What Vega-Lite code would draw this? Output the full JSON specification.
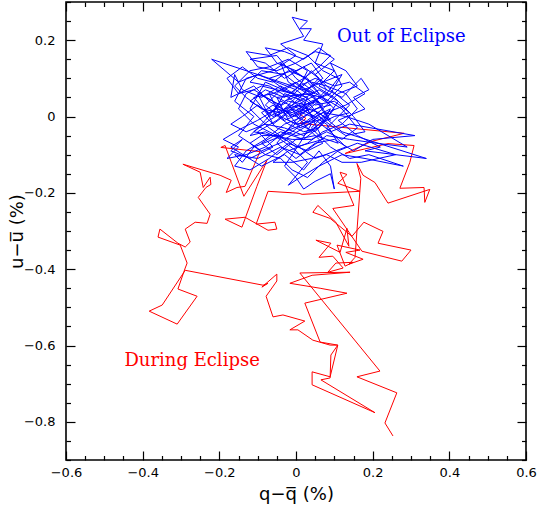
{
  "$schema": "https://vega.github.io/schema/vega-lite/v6.json",
  "width": 460,
  "height": 458,
  "autosize": {"type": "none"},
  "padding": {"left": 66, "top": 2, "right": 11, "bottom": 49},
  "config": {
    "view": {"stroke": "#000", "strokeWidth": 1.6},
    "axis": {
      "domain": false, "grid": false, "tickColor": "#000", "tickWidth": 1.2,
      "labelFont": "DejaVu Sans", "labelFontSize": 13, "labelColor": "#000",
      "titleFont": "DejaVu Sans", "titleFontSize": 18, "titleFontWeight": "normal", "titleColor": "#000",
      "labelFlush": false, "labelOverlap": false
    }
  },
  "datasets": {
    "red": [
      {"i":1,"q":0.005,"u":0.010},{"i":2,"q":0.026,"u":-0.005},{"i":3,"q":0.010,"u":-0.018},{"i":4,"q":0.282,"u":-0.044},
      {"i":5,"q":0.198,"u":-0.065},{"i":6,"q":0.128,"u":-0.097},{"i":7,"q":0.240,"u":-0.071},{"i":8,"q":0.308,"u":-0.076},
      {"i":9,"q":0.297,"u":-0.120},{"i":10,"q":0.271,"u":-0.188},{"i":11,"q":0.334,"u":-0.186},{"i":12,"q":0.336,"u":-0.225},
      {"i":13,"q":0.349,"u":-0.191},{"i":14,"q":0.240,"u":-0.227},{"i":15,"q":0.206,"u":-0.173},{"i":16,"q":0.175,"u":-0.154},
      {"i":17,"q":0.159,"u":-0.123},{"i":18,"q":0.169,"u":-0.162},{"i":19,"q":0.154,"u":-0.369},{"i":20,"q":0.138,"u":-0.387},
      {"i":21,"q":0.175,"u":-0.374},{"i":22,"q":0.130,"u":-0.356},{"i":23,"q":0.167,"u":-0.350},{"i":24,"q":0.107,"u":-0.337},
      {"i":25,"q":0.128,"u":-0.392},{"i":26,"q":0.149,"u":-0.382},{"i":27,"q":0.104,"u":-0.384},{"i":28,"q":0.083,"u":-0.408},
      {"i":29,"q":0.123,"u":-0.397},{"i":30,"q":0.096,"u":-0.366},{"i":31,"q":0.060,"u":-0.369},{"i":32,"q":0.091,"u":-0.332},
      {"i":33,"q":0.052,"u":-0.324},{"i":34,"q":0.115,"u":-0.356},{"i":35,"q":0.133,"u":-0.293},{"i":36,"q":0.138,"u":-0.340},
      {"i":37,"q":0.104,"u":-0.277},{"i":38,"q":0.057,"u":-0.233},{"i":39,"q":0.044,"u":-0.251},{"i":40,"q":0.089,"u":-0.267},
      {"i":41,"q":0.146,"u":-0.314},{"i":42,"q":0.177,"u":-0.277},{"i":43,"q":0.227,"u":-0.301},{"i":44,"q":0.214,"u":-0.332},
      {"i":45,"q":0.300,"u":-0.350},{"i":46,"q":0.276,"u":-0.379},{"i":47,"q":0.172,"u":-0.353},{"i":48,"q":0.096,"u":-0.241},
      {"i":49,"q":0.151,"u":-0.233},{"i":50,"q":0.115,"u":-0.146},{"i":51,"q":0.133,"u":-0.152},{"i":52,"q":0.109,"u":-0.175},
      {"i":53,"q":0.167,"u":-0.196},{"i":54,"q":0.016,"u":-0.204},{"i":55,"q":0.008,"u":-0.201},{"i":56,"q":-0.073,"u":-0.196},
      {"i":57,"q":-0.104,"u":-0.282},{"i":58,"q":-0.055,"u":-0.277},{"i":59,"q":-0.050,"u":-0.295},{"i":60,"q":-0.073,"u":-0.298},
      {"i":61,"q":-0.133,"u":-0.264},{"i":62,"q":-0.185,"u":-0.269},{"i":63,"q":-0.141,"u":-0.290},{"i":64,"q":-0.102,"u":-0.183},
      {"i":65,"q":-0.076,"u":-0.115},{"i":66,"q":-0.136,"u":-0.209},{"i":67,"q":-0.185,"u":-0.076},{"i":68,"q":-0.196,"u":-0.081},
      {"i":69,"q":-0.094,"u":-0.092},{"i":70,"q":-0.133,"u":-0.183},{"i":71,"q":-0.154,"u":-0.186},{"i":72,"q":-0.182,"u":-0.199},
      {"i":73,"q":-0.169,"u":-0.167},{"i":74,"q":-0.198,"u":-0.154},{"i":75,"q":-0.295,"u":-0.125},{"i":76,"q":-0.250,"u":-0.146},
      {"i":77,"q":-0.242,"u":-0.186},{"i":78,"q":-0.224,"u":-0.159},{"i":79,"q":-0.222,"u":-0.178},{"i":80,"q":-0.235,"u":-0.186},
      {"i":81,"q":-0.255,"u":-0.212},{"i":82,"q":-0.224,"u":-0.256},{"i":83,"q":-0.232,"u":-0.280},{"i":84,"q":-0.263,"u":-0.277},
      {"i":85,"q":-0.289,"u":-0.295},{"i":86,"q":-0.276,"u":-0.329},{"i":87,"q":-0.289,"u":-0.342},{"i":88,"q":-0.308,"u":-0.332},
      {"i":89,"q":-0.355,"u":-0.295},{"i":90,"q":-0.360,"u":-0.316},{"i":91,"q":-0.302,"u":-0.337},{"i":92,"q":-0.284,"u":-0.384},
      {"i":93,"q":-0.289,"u":-0.397},{"i":94,"q":-0.308,"u":-0.452},{"i":95,"q":-0.258,"u":-0.471},{"i":96,"q":-0.310,"u":-0.544},
      {"i":97,"q":-0.383,"u":-0.510},{"i":98,"q":-0.349,"u":-0.494},{"i":99,"q":-0.289,"u":-0.403},{"i":100,"q":-0.086,"u":-0.442},
      {"i":101,"q":-0.073,"u":-0.437},{"i":102,"q":-0.089,"u":-0.447},{"i":103,"q":-0.050,"u":-0.413},{"i":104,"q":-0.050,"u":-0.431},
      {"i":105,"q":-0.078,"u":-0.471},{"i":106,"q":-0.060,"u":-0.525},{"i":107,"q":-0.034,"u":-0.520},{"i":108,"q":0.023,"u":-0.536},
      {"i":109,"q":-0.016,"u":-0.559},{"i":110,"q":0.005,"u":-0.559},{"i":111,"q":0.044,"u":-0.586},{"i":112,"q":0.089,"u":-0.599},
      {"i":113,"q":0.109,"u":-0.599},{"i":114,"q":0.091,"u":-0.625},{"i":115,"q":0.089,"u":-0.685},{"i":116,"q":0.065,"u":-0.690},
      {"i":117,"q":0.206,"u":-0.776},{"i":118,"q":0.042,"u":-0.703},{"i":119,"q":0.042,"u":-0.669},{"i":120,"q":0.089,"u":-0.682},
      {"i":121,"q":0.109,"u":-0.599},{"i":122,"q":0.063,"u":-0.591},{"i":123,"q":0.023,"u":-0.489},{"i":124,"q":0.133,"u":-0.463},
      {"i":125,"q":0.063,"u":-0.450},{"i":126,"q":-0.016,"u":-0.437},{"i":127,"q":0.042,"u":-0.416},{"i":128,"q":0.141,"u":-0.408},
      {"i":129,"q":0.010,"u":-0.410},{"i":130,"q":0.219,"u":-0.667},{"i":131,"q":0.159,"u":-0.682},{"i":132,"q":0.263,"u":-0.724},
      {"i":133,"q":0.232,"u":-0.803},{"i":134,"q":0.253,"u":-0.837}
    ],
    "blue": [
      {"i":1,"q":0.02,"u":0.01},{"i":2,"q":0.06,"u":0.04},{"i":3,"q":-0.03,"u":0.02},{"i":4,"q":0.01,"u":-0.03},{"i":5,"q":0.08,"u":0.00},
      {"i":6,"q":0.04,"u":0.06},{"i":7,"q":-0.05,"u":0.05},{"i":8,"q":-0.02,"u":-0.01},{"i":9,"q":0.05,"u":-0.04},{"i":10,"q":0.10,"u":0.02},
      {"i":11,"q":0.03,"u":0.09},{"i":12,"q":-0.04,"u":0.03},{"i":13,"q":-0.10,"u":0.06},{"i":14,"q":-0.06,"u":-0.02},{"i":15,"q":0.02,"u":0.04},
      {"i":16,"q":0.07,"u":-0.06},{"i":17,"q":0.00,"u":-0.08},{"i":18,"q":-0.07,"u":-0.03},{"i":19,"q":-0.12,"u":0.02},{"i":20,"q":-0.08,"u":0.09},
      {"i":21,"q":-0.01,"u":0.06},{"i":22,"q":0.04,"u":0.12},{"i":23,"q":0.09,"u":0.07},{"i":24,"q":0.14,"u":0.03},{"i":25,"q":0.08,"u":-0.03},
      {"i":26,"q":0.13,"u":-0.08},{"i":27,"q":0.05,"u":-0.11},{"i":28,"q":-0.02,"u":-0.06},{"i":29,"q":-0.09,"u":-0.09},{"i":30,"q":-0.15,"u":-0.05},
      {"i":31,"q":-0.11,"u":0.00},{"i":32,"q":-0.16,"u":0.04},{"i":33,"q":-0.13,"u":0.10},{"i":34,"q":-0.06,"u":0.12},{"i":35,"q":0.00,"u":0.16},
      {"i":36,"q":-0.04,"u":0.19},{"i":37,"q":0.02,"u":0.21},{"i":38,"q":-0.01,"u":0.26},{"i":39,"q":0.03,"u":0.25},{"i":40,"q":0.01,"u":0.23},
      {"i":41,"q":0.04,"u":0.23},{"i":42,"q":0.02,"u":0.20},{"i":43,"q":0.07,"u":0.19},{"i":44,"q":0.05,"u":0.14},{"i":45,"q":0.10,"u":0.12},
      {"i":46,"q":0.06,"u":0.08},{"i":47,"q":0.12,"u":0.05},{"i":48,"q":0.17,"u":0.10},{"i":49,"q":0.19,"u":0.07},{"i":50,"q":0.15,"u":0.05},
      {"i":51,"q":0.18,"u":0.02},{"i":52,"q":0.11,"u":-0.01},{"i":53,"q":0.16,"u":-0.05},{"i":54,"q":0.22,"u":-0.08},{"i":55,"q":0.18,"u":-0.09},
      {"i":56,"q":0.34,"u":-0.11},{"i":57,"q":0.12,"u":-0.04},{"i":58,"q":0.06,"u":0.01},{"i":59,"q":0.00,"u":0.03},{"i":60,"q":-0.05,"u":-0.01},
      {"i":61,"q":-0.10,"u":-0.04},{"i":62,"q":-0.06,"u":-0.08},{"i":63,"q":-0.12,"u":-0.11},{"i":64,"q":-0.17,"u":-0.09},{"i":65,"q":-0.14,"u":-0.06},
      {"i":66,"q":-0.17,"u":-0.08},{"i":67,"q":-0.09,"u":-0.13},{"i":68,"q":-0.03,"u":-0.10},{"i":69,"q":0.02,"u":-0.14},{"i":70,"q":0.06,"u":-0.09},
      {"i":71,"q":0.09,"u":-0.13},{"i":72,"q":0.10,"u":-0.19},{"i":73,"q":0.09,"u":-0.15},{"i":74,"q":0.05,"u":-0.17},{"i":75,"q":0.02,"u":-0.19},
      {"i":76,"q":0.00,"u":-0.16},{"i":77,"q":-0.03,"u":-0.13},{"i":78,"q":0.01,"u":-0.07},{"i":79,"q":0.04,"u":-0.02},{"i":80,"q":-0.02,"u":0.01},
      {"i":81,"q":-0.07,"u":0.04},{"i":82,"q":-0.11,"u":0.08},{"i":83,"q":-0.17,"u":0.05},{"i":84,"q":-0.16,"u":0.11},{"i":85,"q":-0.14,"u":0.07},
      {"i":86,"q":-0.09,"u":0.05},{"i":87,"q":-0.04,"u":0.08},{"i":88,"q":0.01,"u":0.05},{"i":89,"q":0.06,"u":0.10},{"i":90,"q":0.02,"u":0.13},
      {"i":91,"q":-0.03,"u":0.10},{"i":92,"q":-0.08,"u":0.14},{"i":93,"q":-0.12,"u":0.15},{"i":94,"q":-0.05,"u":0.16},{"i":95,"q":0.00,"u":0.10},
      {"i":96,"q":0.04,"u":0.07},{"i":97,"q":0.08,"u":0.04},{"i":98,"q":0.12,"u":0.08},{"i":99,"q":0.09,"u":0.14},{"i":100,"q":0.13,"u":0.12},
      {"i":101,"q":0.16,"u":0.08},{"i":102,"q":0.11,"u":0.06},{"i":103,"q":0.07,"u":0.02},{"i":104,"q":0.03,"u":-0.01},{"i":105,"q":-0.01,"u":-0.04},
      {"i":106,"q":-0.06,"u":-0.06},{"i":107,"q":-0.11,"u":-0.08},{"i":108,"q":-0.14,"u":-0.12},{"i":109,"q":-0.16,"u":-0.10},{"i":110,"q":-0.10,"u":-0.11},
      {"i":111,"q":-0.04,"u":-0.08},{"i":112,"q":0.01,"u":-0.10},{"i":113,"q":0.05,"u":-0.07},{"i":114,"q":0.10,"u":-0.06},{"i":115,"q":0.15,"u":-0.09},
      {"i":116,"q":0.20,"u":-0.06},{"i":117,"q":0.31,"u":-0.05},{"i":118,"q":0.14,"u":-0.02},{"i":119,"q":0.09,"u":-0.04},{"i":120,"q":0.04,"u":0.00},
      {"i":121,"q":-0.01,"u":0.02},{"i":122,"q":-0.06,"u":0.00},{"i":123,"q":-0.10,"u":0.03},{"i":124,"q":-0.14,"u":0.00},{"i":125,"q":-0.17,"u":-0.02},
      {"i":126,"q":-0.13,"u":-0.04},{"i":127,"q":-0.08,"u":-0.02},{"i":128,"q":-0.03,"u":-0.03},{"i":129,"q":0.02,"u":-0.05},{"i":130,"q":0.06,"u":-0.02},
      {"i":131,"q":0.10,"u":0.00},{"i":132,"q":0.14,"u":0.01},{"i":133,"q":0.10,"u":0.04},{"i":134,"q":0.05,"u":0.03},{"i":135,"q":0.00,"u":0.07},
      {"i":136,"q":-0.05,"u":0.09},{"i":137,"q":-0.10,"u":0.11},{"i":138,"q":-0.15,"u":0.09},{"i":139,"q":-0.22,"u":0.15},{"i":140,"q":0.05,"u":0.06},
      {"i":141,"q":0.01,"u":0.08},{"i":142,"q":-0.03,"u":0.05},{"i":143,"q":-0.08,"u":0.07},{"i":144,"q":-0.12,"u":0.04},{"i":145,"q":-0.07,"u":0.01},
      {"i":146,"q":-0.02,"u":0.04},{"i":147,"q":0.03,"u":0.03},{"i":148,"q":0.08,"u":0.06},{"i":149,"q":0.11,"u":0.10},{"i":150,"q":0.07,"u":0.12},
      {"i":151,"q":0.03,"u":0.16},{"i":152,"q":-0.02,"u":0.18},{"i":153,"q":-0.07,"u":0.16},{"i":154,"q":-0.13,"u":0.17},{"i":155,"q":-0.10,"u":0.13},
      {"i":156,"q":-0.05,"u":0.12},{"i":157,"q":0.00,"u":0.14},{"i":158,"q":0.05,"u":0.17},{"i":159,"q":0.09,"u":0.16},{"i":160,"q":0.06,"u":0.13},
      {"i":161,"q":0.02,"u":0.10},{"i":162,"q":-0.03,"u":0.07},{"i":163,"q":-0.07,"u":0.10},{"i":164,"q":-0.01,"u":0.12},{"i":165,"q":0.04,"u":0.09},
      {"i":166,"q":0.08,"u":0.08},{"i":167,"q":0.13,"u":0.06},{"i":168,"q":0.16,"u":0.02},{"i":169,"q":0.12,"u":-0.02},{"i":170,"q":0.07,"u":-0.04},
      {"i":171,"q":0.03,"u":-0.07},{"i":172,"q":-0.02,"u":-0.09},{"i":173,"q":-0.06,"u":-0.12},{"i":174,"q":-0.01,"u":-0.12},{"i":175,"q":0.04,"u":-0.11},
      {"i":176,"q":0.08,"u":-0.10},{"i":177,"q":0.12,"u":-0.12},{"i":178,"q":0.17,"u":-0.12},{"i":179,"q":0.26,"u":-0.10},{"i":180,"q":0.16,"u":-0.07},
      {"i":181,"q":0.11,"u":-0.09},{"i":182,"q":0.07,"u":-0.12},{"i":183,"q":0.03,"u":-0.16},{"i":184,"q":-0.01,"u":-0.14},{"i":185,"q":-0.04,"u":-0.11},
      {"i":186,"q":-0.08,"u":-0.10},{"i":187,"q":-0.12,"u":-0.07},{"i":188,"q":-0.09,"u":-0.05},{"i":189,"q":-0.04,"u":-0.05},{"i":190,"q":0.01,"u":-0.01},
      {"i":191,"q":0.05,"u":0.02},{"i":192,"q":0.09,"u":0.03},{"i":193,"q":0.06,"u":0.05},{"i":194,"q":0.02,"u":0.02},{"i":195,"q":-0.02,"u":0.00},
      {"i":196,"q":-0.06,"u":0.03},{"i":197,"q":-0.09,"u":0.01},{"i":198,"q":-0.05,"u":-0.03},{"i":199,"q":0.00,"u":-0.05},{"i":200,"q":0.04,"u":-0.04},
      {"i":201,"q":0.07,"u":-0.01},{"i":202,"q":0.03,"u":0.04},{"i":203,"q":-0.01,"u":0.06},{"i":204,"q":-0.05,"u":0.07},{"i":205,"q":-0.09,"u":0.08},
      {"i":206,"q":-0.13,"u":0.06},{"i":207,"q":-0.15,"u":0.02},{"i":208,"q":-0.11,"u":-0.02},{"i":209,"q":-0.07,"u":-0.04},{"i":210,"q":-0.03,"u":-0.06},
      {"i":211,"q":0.02,"u":-0.03},{"i":212,"q":0.06,"u":0.00},{"i":213,"q":0.10,"u":-0.03},{"i":214,"q":0.13,"u":-0.05},{"i":215,"q":0.18,"u":-0.04},
      {"i":216,"q":0.15,"u":0.00},{"i":217,"q":0.10,"u":0.05},{"i":218,"q":0.05,"u":0.08},{"i":219,"q":0.01,"u":0.11},{"i":220,"q":-0.04,"u":0.14},
      {"i":221,"q":-0.02,"u":0.09},{"i":222,"q":0.03,"u":0.06},{"i":223,"q":0.07,"u":0.03},{"i":224,"q":0.02,"u":0.00},{"i":225,"q":-0.03,"u":-0.02},
      {"i":226,"q":-0.08,"u":-0.06},{"i":227,"q":-0.13,"u":-0.09},{"i":228,"q":-0.16,"u":-0.13},{"i":229,"q":-0.12,"u":-0.14},{"i":230,"q":-0.07,"u":-0.11},
      {"i":231,"q":-0.02,"u":-0.07},{"i":232,"q":0.03,"u":-0.09},{"i":233,"q":0.07,"u":-0.07},{"i":234,"q":0.02,"u":-0.02},{"i":235,"q":-0.02,"u":0.03},
      {"i":236,"q":0.01,"u":0.00},
      {"i":237,"q":0.03,"u":0.05},{"i":238,"q":-0.04,"u":0.07},{"i":239,"q":-0.08,"u":0.03},{"i":240,"q":-0.03,"u":-0.01},{"i":241,"q":0.04,"u":0.02},
      {"i":242,"q":0.09,"u":-0.01},{"i":243,"q":0.05,"u":0.05},{"i":244,"q":0.00,"u":0.09},{"i":245,"q":-0.06,"u":0.06},{"i":246,"q":-0.11,"u":0.05},
      {"i":247,"q":-0.07,"u":0.00},{"i":248,"q":-0.01,"u":0.03},{"i":249,"q":0.06,"u":0.07},{"i":250,"q":0.11,"u":0.04},{"i":251,"q":0.07,"u":-0.02},
      {"i":252,"q":0.02,"u":-0.06},{"i":253,"q":-0.04,"u":-0.04},{"i":254,"q":-0.09,"u":-0.07},{"i":255,"q":-0.05,"u":-0.10},{"i":256,"q":0.00,"u":-0.06},
      {"i":257,"q":0.05,"u":-0.05},{"i":258,"q":0.11,"u":-0.07},{"i":259,"q":0.08,"u":-0.02},{"i":260,"q":0.03,"u":0.01},{"i":261,"q":-0.02,"u":0.05},
      {"i":262,"q":-0.07,"u":0.08},{"i":263,"q":-0.12,"u":0.09},{"i":264,"q":-0.09,"u":0.12},{"i":265,"q":-0.03,"u":0.11},{"i":266,"q":0.02,"u":0.07},
      {"i":267,"q":0.07,"u":0.09},{"i":268,"q":0.12,"u":0.11},{"i":269,"q":0.09,"u":0.06},{"i":270,"q":0.04,"u":0.04},{"i":271,"q":-0.01,"u":0.01},
      {"i":272,"q":-0.05,"u":0.02},{"i":273,"q":-0.10,"u":-0.01},{"i":274,"q":-0.14,"u":-0.03},{"i":275,"q":-0.19,"u":-0.06},{"i":276,"q":-0.15,"u":-0.08},
      {"i":277,"q":-0.18,"u":-0.11},{"i":278,"q":-0.13,"u":-0.10},{"i":279,"q":-0.08,"u":-0.08},{"i":280,"q":-0.03,"u":-0.04},{"i":281,"q":0.02,"u":-0.02},
      {"i":282,"q":0.07,"u":0.01},{"i":283,"q":0.13,"u":0.00},{"i":284,"q":0.19,"u":-0.02},{"i":285,"q":0.24,"u":-0.05},{"i":286,"q":0.29,"u":-0.08},
      {"i":287,"q":0.21,"u":-0.07},{"i":288,"q":0.14,"u":-0.06},{"i":289,"q":0.08,"u":-0.05},{"i":290,"q":0.04,"u":-0.08},{"i":291,"q":0.00,"u":-0.11},
      {"i":292,"q":-0.05,"u":-0.07},{"i":293,"q":-0.01,"u":-0.02},{"i":294,"q":0.03,"u":0.02},{"i":295,"q":0.00,"u":0.05},{"i":296,"q":-0.04,"u":0.01},
      {"i":297,"q":-0.09,"u":0.02},{"i":298,"q":-0.13,"u":0.05},{"i":299,"q":-0.16,"u":0.08},{"i":300,"q":-0.12,"u":0.12},{"i":301,"q":-0.07,"u":0.13},
      {"i":302,"q":-0.02,"u":0.15},{"i":303,"q":0.03,"u":0.12},{"i":304,"q":0.01,"u":0.08},{"i":305,"q":0.05,"u":0.10},{"i":306,"q":0.10,"u":0.08},
      {"i":307,"q":0.14,"u":0.09},{"i":308,"q":0.18,"u":0.06},{"i":309,"q":0.13,"u":0.03},{"i":310,"q":0.08,"u":0.01},{"i":311,"q":0.04,"u":-0.03},
      {"i":312,"q":0.09,"u":-0.08},{"i":313,"q":0.14,"u":-0.11},{"i":314,"q":0.19,"u":-0.10},{"i":315,"q":0.28,"u":-0.13},{"i":316,"q":0.18,"u":-0.11},
      {"i":317,"q":0.12,"u":-0.10},{"i":318,"q":0.06,"u":-0.13},{"i":319,"q":0.01,"u":-0.16},{"i":320,"q":-0.02,"u":-0.18},{"i":321,"q":0.03,"u":-0.12},
      {"i":322,"q":0.00,"u":-0.09},{"i":323,"q":-0.04,"u":-0.06},{"i":324,"q":-0.08,"u":-0.04},{"i":325,"q":-0.12,"u":-0.05},{"i":326,"q":-0.08,"u":-0.01},
      {"i":327,"q":-0.04,"u":0.04},{"i":328,"q":0.01,"u":0.02},{"i":329,"q":0.05,"u":0.00},{"i":330,"q":0.09,"u":0.02},{"i":331,"q":0.06,"u":-0.03},
      {"i":332,"q":0.02,"u":-0.04},{"i":333,"q":-0.02,"u":-0.02},{"i":334,"q":-0.06,"u":0.01},{"i":335,"q":-0.03,"u":0.06},{"i":336,"q":0.02,"u":0.04},
      {"i":337,"q":0.06,"u":0.06},{"i":338,"q":0.03,"u":0.10},{"i":339,"q":-0.02,"u":0.12},{"i":340,"q":-0.06,"u":0.09},{"i":341,"q":-0.10,"u":0.10},
      {"i":342,"q":-0.14,"u":0.13},{"i":343,"q":-0.18,"u":0.10},{"i":344,"q":-0.15,"u":0.06},{"i":345,"q":-0.11,"u":0.07},{"i":346,"q":-0.06,"u":0.04},
      {"i":347,"q":-0.01,"u":0.00},{"i":348,"q":0.04,"u":0.03},{"i":349,"q":0.08,"u":0.07},{"i":350,"q":0.05,"u":0.11},{"i":351,"q":0.10,"u":0.15},
      {"i":352,"q":0.06,"u":0.18},{"i":353,"q":0.02,"u":0.15},{"i":354,"q":-0.03,"u":0.17},{"i":355,"q":-0.08,"u":0.18},{"i":356,"q":-0.05,"u":0.14},
      {"i":357,"q":0.00,"u":0.12},{"i":358,"q":0.04,"u":0.14},{"i":359,"q":0.07,"u":0.10},{"i":360,"q":0.03,"u":0.07},{"i":361,"q":-0.02,"u":0.02},
      {"i":362,"q":-0.07,"u":-0.01},{"i":363,"q":-0.11,"u":-0.04},{"i":364,"q":-0.06,"u":-0.05},{"i":365,"q":-0.01,"u":-0.06},{"i":366,"q":0.04,"u":-0.06},
      {"i":367,"q":0.08,"u":-0.04},{"i":368,"q":0.12,"u":-0.06},{"i":369,"q":0.16,"u":-0.03},{"i":370,"q":0.12,"u":0.02},{"i":371,"q":0.07,"u":0.05},
      {"i":372,"q":0.02,"u":0.06},{"i":373,"q":-0.03,"u":0.04},{"i":374,"q":-0.07,"u":0.06},{"i":375,"q":-0.04,"u":0.00},{"i":376,"q":0.00,"u":-0.02},
      {"i":377,"q":0.05,"u":-0.01},{"i":378,"q":0.02,"u":0.03},{"i":379,"q":0.00,"u":0.01}
    ],
    "outLabel": [{"q": 0.275, "u": 0.196, "t": "Out of Eclipse"}],
    "inLabel": [{"q": -0.271, "u": -0.655, "t": "During Eclipse"}]
  },
  "layer": [
    {
      "data": {"name": "red"},
      "mark": {"type": "line", "color": "#ff0000", "strokeWidth": 1},
      "encoding": {
        "x": {
          "field": "q", "type": "quantitative",
          "scale": {"domain": [-0.6, 0.6], "nice": false, "zero": false},
          "axis": {
            "orient": "bottom", "title": "q−q̅ (%)", "format": ".1~f",
            "values": [-0.6,-0.55,-0.5,-0.45,-0.4,-0.35,-0.3,-0.25,-0.2,-0.15,-0.1,-0.05,0,0.05,0.1,0.15,0.2,0.25,0.3,0.35,0.4,0.45,0.5,0.55,0.6],
            "labelExpr": "abs(datum.value*5 - round(datum.value*5)) < 0.001 ? datum.label : ''",
            "tickSize": {"condition": {"test": "abs(datum.value*5 - round(datum.value*5)) < 0.001", "value": -9}, "value": -4.5},
            "labelPadding": 15, "titlePadding": 2
          }
        },
        "y": {
          "field": "u", "type": "quantitative",
          "scale": {"domain": [-0.9, 0.3], "nice": false, "zero": false},
          "axis": {
            "orient": "left", "title": "u−u̅ (%)", "format": ".1~f",
            "values": [-0.9,-0.85,-0.8,-0.75,-0.7,-0.65,-0.6,-0.55,-0.5,-0.45,-0.4,-0.35,-0.3,-0.25,-0.2,-0.15,-0.1,-0.05,0,0.05,0.1,0.15,0.2,0.25,0.3],
            "labelExpr": "abs(datum.value*5 - round(datum.value*5)) < 0.001 && datum.value > -0.85 && datum.value < 0.25 ? datum.label : ''",
            "tickSize": {"condition": {"test": "abs(datum.value*5 - round(datum.value*5)) < 0.001", "value": -9}, "value": -4.5},
            "labelPadding": 20, "titleX": -44, "titleBaseline": "alphabetic"
          }
        },
        "order": {"field": "i", "type": "quantitative"}
      }
    },
    {
      "data": {"name": "blue"},
      "mark": {"type": "line", "color": "#0000ff", "strokeWidth": 1},
      "encoding": {
        "x": {
          "field": "q", "type": "quantitative",
          "axis": {
            "orient": "top", "title": null, "labels": false,
            "values": [-0.6,-0.55,-0.5,-0.45,-0.4,-0.35,-0.3,-0.25,-0.2,-0.15,-0.1,-0.05,0,0.05,0.1,0.15,0.2,0.25,0.3,0.35,0.4,0.45,0.5,0.55,0.6],
            "tickSize": {"condition": {"test": "abs(datum.value*5 - round(datum.value*5)) < 0.001", "value": -9}, "value": -4.5}
          }
        },
        "y": {
          "field": "u", "type": "quantitative",
          "axis": {
            "orient": "right", "title": null, "labels": false,
            "values": [-0.9,-0.85,-0.8,-0.75,-0.7,-0.65,-0.6,-0.55,-0.5,-0.45,-0.4,-0.35,-0.3,-0.25,-0.2,-0.15,-0.1,-0.05,0,0.05,0.1,0.15,0.2,0.25,0.3],
            "tickSize": {"condition": {"test": "abs(datum.value*5 - round(datum.value*5)) < 0.001", "value": -9}, "value": -4.5}
          }
        },
        "order": {"field": "i", "type": "quantitative"}
      }
    },
    {
      "data": {"name": "outLabel"},
      "mark": {"type": "text", "color": "#0000ff", "font": "DejaVu Serif", "fontSize": 18, "align": "center", "baseline": "alphabetic"},
      "encoding": {
        "x": {"field": "q", "type": "quantitative", "axis": null},
        "y": {"field": "u", "type": "quantitative", "axis": null},
        "text": {"field": "t"}
      }
    },
    {
      "data": {"name": "inLabel"},
      "mark": {"type": "text", "color": "#ff0000", "font": "DejaVu Serif", "fontSize": 18, "align": "center", "baseline": "alphabetic"},
      "encoding": {
        "x": {"field": "q", "type": "quantitative", "axis": null},
        "y": {"field": "u", "type": "quantitative", "axis": null},
        "text": {"field": "t"}
      }
    }
  ],
  "resolve": {"axis": {"x": "independent", "y": "independent"}}
}
